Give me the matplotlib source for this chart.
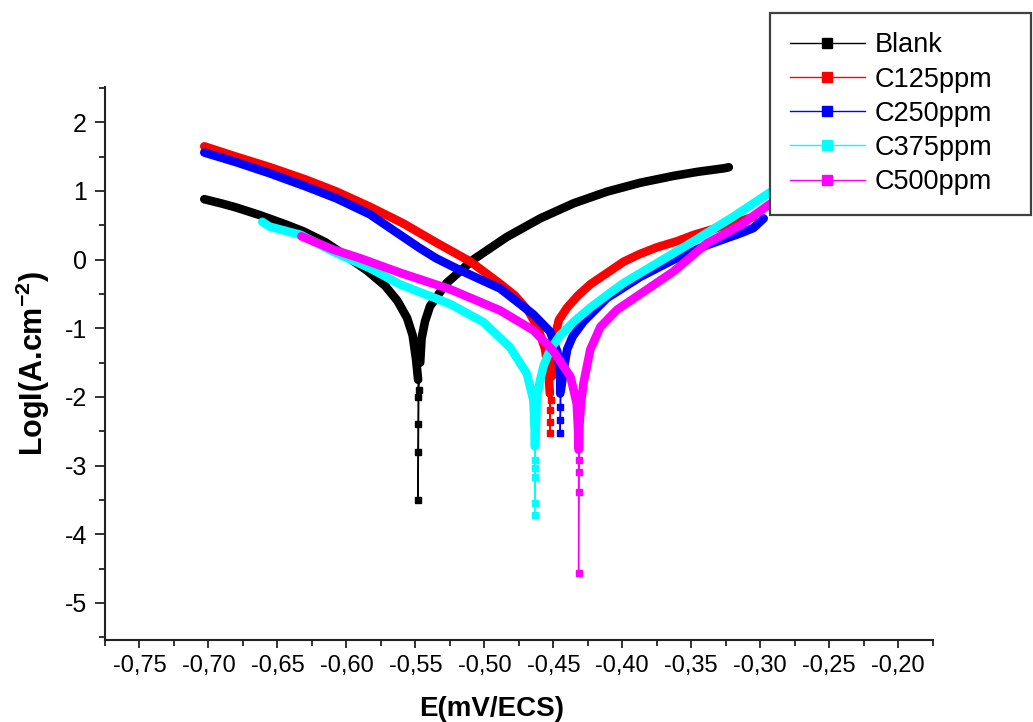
import numpy as np
import matplotlib
matplotlib.use('Agg')
import matplotlib.pyplot as plt
from matplotlib.lines import Line2D
from matplotlib.ticker import FixedLocator, FixedFormatter, MultipleLocator

# ---------------- data ----------------
labels = ['Blank', 'C125ppm', 'C250ppm', 'C375ppm', 'C500ppm']
colors = ['#000000', '#ff0000', '#0000ff', '#00ffff', '#ff00ff']

blank_E = [-0.703, -0.690, -0.680, -0.663, -0.645, -0.631, -0.615, -0.600, -0.585,
           -0.572, -0.563, -0.556, -0.552, -0.5495, -0.548, -0.548, -0.548, -0.548, -0.548,
           -0.5475, -0.5465, -0.5455, -0.543, -0.5394, -0.5273, -0.508, -0.4837, -0.4595,
           -0.4353, -0.4111, -0.3869, -0.3627, -0.345, -0.3264, -0.3228]
blank_L = [0.88, 0.815, 0.76, 0.65, 0.52, 0.41, 0.25, 0.05, -0.16,
           -0.38, -0.60, -0.85, -1.10, -1.45, -1.75, -2.0, -2.4, -2.8, -3.5,
           -1.9, -1.5, -1.15, -0.9, -0.68, -0.34, 0.0, 0.33, 0.60,
           0.82, 0.99, 1.12, 1.22, 1.28, 1.33, 1.345]

c125_E = [-0.703, -0.680, -0.656, -0.630, -0.607, -0.583, -0.559, -0.535, -0.510,
          -0.490, -0.478, -0.468, -0.461, -0.456, -0.4535, -0.4525, -0.4525, -0.4525, -0.4525,
          -0.452, -0.451, -0.4495, -0.4485, -0.446, -0.440, -0.432, -0.4232, -0.410,
          -0.399, -0.3875, -0.3748, -0.360, -0.3482, -0.330, -0.315, -0.305]
c125_L = [1.65, 1.50, 1.35, 1.17, 0.99, 0.77, 0.53, 0.25, -0.03,
          -0.33, -0.52, -0.75, -1.00, -1.30, -1.65, -1.95, -2.19, -2.36, -2.52,
          -2.05, -1.7, -1.4, -1.1, -0.88, -0.70, -0.52, -0.36, -0.18,
          -0.03, 0.08, 0.18, 0.27, 0.36, 0.47, 0.56, 0.62]

c250_E = [-0.703, -0.680, -0.656, -0.630, -0.607, -0.583, -0.561, -0.547, -0.535,
          -0.520, -0.505, -0.4886, -0.4644, -0.4523, -0.447, -0.445, -0.445, -0.445,
          -0.445, -0.445,
          -0.4445, -0.442, -0.440, -0.436, -0.428, -0.4111, -0.3869, -0.3627, -0.340,
          -0.3142, -0.305, -0.2975]
c250_L = [1.56, 1.42, 1.26, 1.07, 0.89, 0.66, 0.36, 0.17, 0.02,
          -0.13, -0.27, -0.42, -0.80, -1.05, -1.35, -1.65, -1.95, -2.15,
          -2.33, -2.52,
          -1.9, -1.55, -1.31, -1.12, -0.90, -0.56, -0.25, 0.0, 0.2,
          0.385, 0.46, 0.60]

c375_E = [-0.661, -0.6556, -0.633, -0.610, -0.583, -0.5612, -0.5249, -0.5007, -0.4813,
          -0.4692, -0.4644, -0.4635, -0.4635, -0.4635, -0.4635, -0.4635, -0.4635, -0.4635,
          -0.463, -0.462, -0.4595, -0.4571, -0.4523, -0.445, -0.435, -0.4232, -0.410,
          -0.399, -0.3748, -0.3506, -0.3192, -0.2937, -0.285]
c375_L = [0.55, 0.48, 0.36, 0.12, -0.125, -0.36, -0.645, -0.91, -1.28,
          -1.66, -2.05, -2.5, -2.72, -2.92, -3.04, -3.16, -3.55, -3.72,
          -2.7, -2.0, -1.75, -1.55, -1.31, -1.1, -0.9, -0.70, -0.5,
          -0.34, -0.05, 0.24, 0.63, 0.97, 1.07]

c500_E = [-0.6326, -0.610, -0.590, -0.5612, -0.525, -0.4886, -0.4644, -0.450, -0.4375,
          -0.433, -0.432, -0.4317, -0.4317, -0.4317, -0.4317, -0.4317,
          -0.4313, -0.431, -0.430, -0.4281, -0.4232, -0.4159, -0.4038, -0.3869, -0.3627,
          -0.3385, -0.3143, -0.2937, -0.285]
c500_L = [0.34, 0.15, 0.02, -0.19, -0.43, -0.74, -1.03, -1.33, -1.71,
          -2.1, -2.5, -2.77, -2.92, -3.09, -3.38, -4.56,
          -2.75, -2.4, -2.1, -1.80, -1.31, -0.98, -0.73, -0.5, -0.17,
          0.24, 0.5, 0.8, 0.9]

series_E = [blank_E, c125_E, c250_E, c375_E, c500_E]
series_L = [blank_L, c125_L, c250_L, c375_L, c500_L]
# below this level the measured points are sparse (separate square markers)
dense_floor = [-1.8, -2.0, -2.0, -2.8, -2.8]

x_ticks = [-0.75, -0.70, -0.65, -0.60, -0.55, -0.50, -0.45, -0.40, -0.35, -0.30, -0.25, -0.20]
x_tick_labels = ['-0,75', '-0,70', '-0,65', '-0,60', '-0,55', '-0,50', '-0,45',
                 '-0,40', '-0,35', '-0,30', '-0,25', '-0,20']
y_ticks = [-5, -4, -3, -2, -1, 0, 1, 2]
y_tick_labels = ['-5', '-4', '-3', '-2', '-1', '0', '1', '2']

# ---------------- style ----------------
plt.rcParams['font.family'] = ['Liberation Sans', 'DejaVu Sans']
plt.rcParams['mathtext.fontset'] = 'custom'
plt.rcParams['mathtext.rm'] = 'Liberation Sans'
plt.rcParams['mathtext.bf'] = 'Liberation Sans:bold'

fig = plt.figure(figsize=(10.33, 7.22), dpi=100)
ax = fig.add_axes([0.1016, 0.1136, 0.8013, 0.7655])

for i, (E, L) in enumerate(zip(series_E, series_L)):
    E = np.array(E)
    L = np.array(L)
    c = colors[i]
    z = 2 + i
    ax.plot(E, L, color=c, lw=1.0, zorder=z)
    thick = np.where(L >= dense_floor[i], L, np.nan)
    ax.plot(E, thick, color=c, lw=6.2, solid_capstyle='round',
            solid_joinstyle='round', zorder=z)
    m = L < dense_floor[i]
    ax.plot(E[m], L[m], 's', color=c, ms=5, zorder=z)

ax.set_xlim(-0.775, -0.175)
ax.set_ylim(-5.54, 2.51)

for s in ['top', 'right']:
    ax.spines[s].set_visible(False)
for s in ['left', 'bottom']:
    ax.spines[s].set_linewidth(1.5)
    ax.spines[s].set_color('#222222')

ax.xaxis.set_major_locator(FixedLocator(x_ticks))
ax.xaxis.set_major_formatter(FixedFormatter(x_tick_labels))
ax.xaxis.set_minor_locator(MultipleLocator(0.025))
ax.yaxis.set_major_locator(FixedLocator(y_ticks))
ax.yaxis.set_major_formatter(FixedFormatter(y_tick_labels))
ax.yaxis.set_minor_locator(MultipleLocator(0.5))

ax.tick_params(axis='x', which='major', direction='out', length=6, width=1.3,
               labelsize=17, pad=5, color='#222222')
ax.tick_params(axis='x', which='minor', direction='out', length=4, width=1.3, color='#222222')
ax.tick_params(axis='y', which='major', direction='out', length=7, width=1.3,
               labelsize=18, pad=6, color='#222222')
ax.tick_params(axis='y', which='minor', direction='out', length=4, width=1.3, color='#222222')

ax.set_xlabel('E(mV/ECS)', fontsize=20, fontweight='bold')
ax.xaxis.set_label_coords(0.467, -0.102)
ax.set_ylabel(r'LogI(A.cm$^{\mathbf{-2}}$)', fontsize=22, fontweight='bold')
ax.yaxis.label.set_va('center')
ax.yaxis.set_label_coords(-0.087, 0.50)

handles = [Line2D([], [], color=c, lw=1.0, marker='s', ms=6.5, mfc=c, mec=c)
           for c in colors]
leg = fig.legend(handles, labels, loc='upper left',
                 bbox_to_anchor=(770 / 1033, 1 - 208 / 722, 261 / 1033, 195 / 722),
                 mode='expand', borderaxespad=0, fontsize=19.5, frameon=True,
                 fancybox=False, framealpha=1, edgecolor='#404040',
                 borderpad=0.72, labelspacing=0.3, handlelength=2.8, handletextpad=0.35)
leg.get_frame().set_linewidth(1.6)
leg.set_zorder(20)

fig.savefig('out.png', dpi=100)
